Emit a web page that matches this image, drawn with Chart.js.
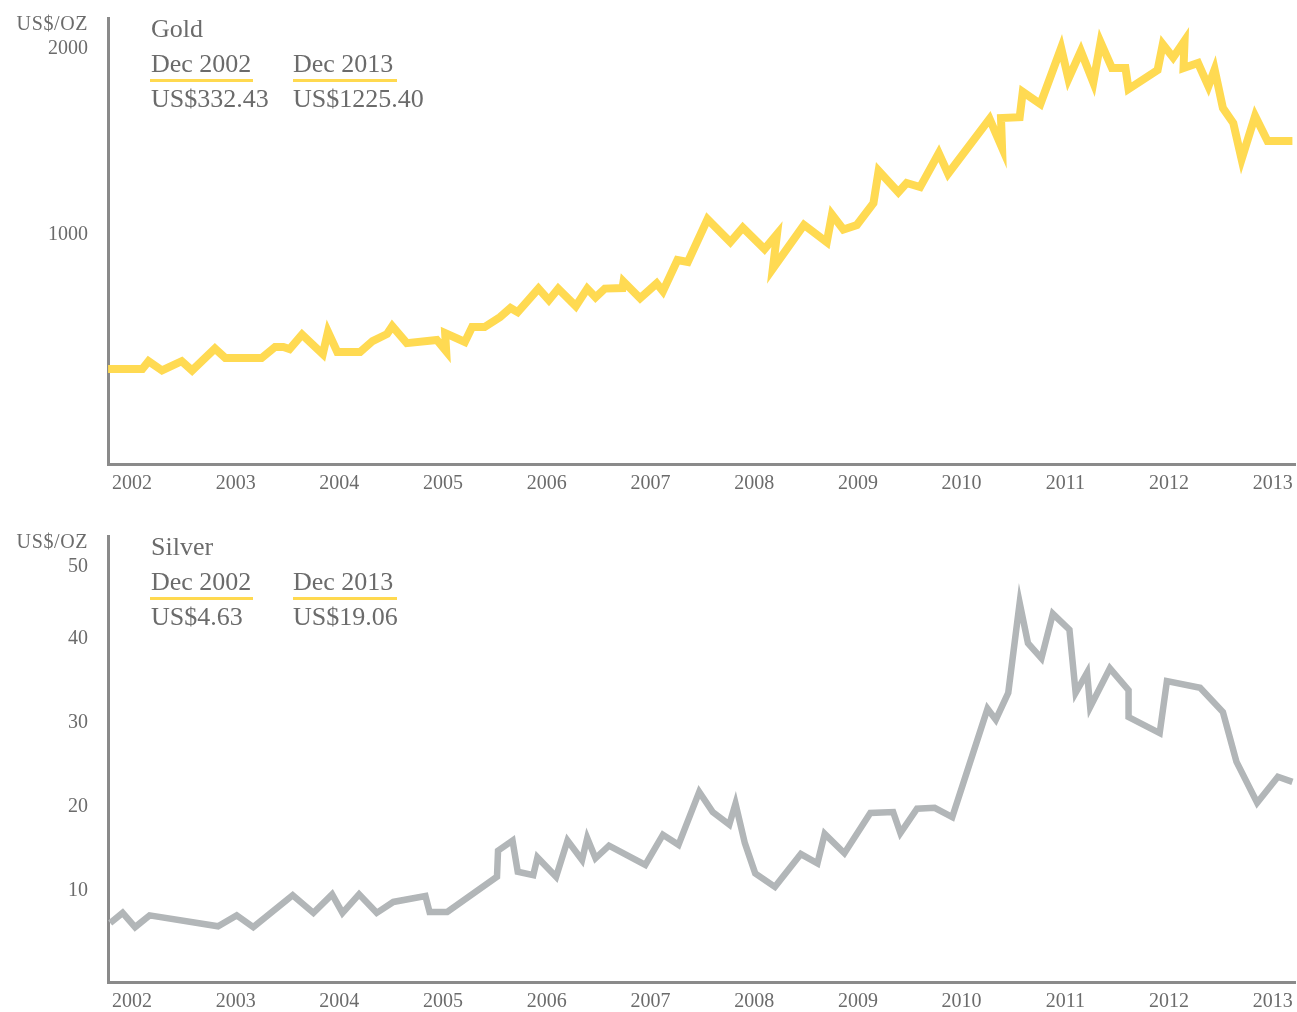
<!DOCTYPE html>
<html>
<head>
<meta charset="utf-8">
<title>Gold / Silver</title>
<script src="https://cdn.jsdelivr.net/npm/chart.js@4.4.1/dist/chart.umd.min.js"></script>
<style>
    body {
        margin: 0;
        width: 1297px;
        height: 1012px;
        overflow: hidden;
        position: relative;
        background: #ffffff;
        font-family: "Liberation Serif", "DejaVu Serif", serif;
        color: #6b6b6b;
    }
    .panel {
        position: absolute;
        left: 0;
        width: 1297px;
        height: 500px;
    }
    .panel canvas {
        position: absolute;
        left: 0;
        top: 0;
    }
    .unit {
        position: absolute;
        left: 0;
        width: 88px;
        top: 13px;
        text-align: right;
        font-size: 20px;
        line-height: 20px;
        letter-spacing: 0.6px;
    }
    .note {
        position: absolute;
        font-size: 26px;
        line-height: 26px;
        white-space: nowrap;
    }
    .rule {
        position: absolute;
        top: 79px;
        height: 3px;
        background: #ffd94f;
    }
</style>
</head>
<body>

<div class="panel" id="goldPanel" style="top:0">
    <canvas id="goldChart" width="1297" height="500"></canvas>
    <div class="unit">US$/OZ</div>
    <div class="note" style="left:151px; top:16px">Gold</div>
    <div class="note" style="left:151px; top:51px">Dec 2002</div>
    <div class="note" style="left:293px; top:51px">Dec 2013</div>
    <div class="rule" style="left:150px; width:103px"></div>
    <div class="rule" style="left:293px; width:104px"></div>
    <div class="note" style="left:151px; top:86px">US$332.43</div>
    <div class="note" style="left:293px; top:86px">US$1225.40</div>
</div>

<div class="panel" id="silverPanel" style="top:518px">
    <canvas id="silverChart" width="1297" height="500"></canvas>
    <div class="unit">US$/OZ</div>
    <div class="note" style="left:151px; top:16px">Silver</div>
    <div class="note" style="left:151px; top:51px">Dec 2002</div>
    <div class="note" style="left:293px; top:51px">Dec 2013</div>
    <div class="rule" style="left:150px; width:103px"></div>
    <div class="rule" style="left:293px; width:104px"></div>
    <div class="note" style="left:151px; top:86px">US$4.63</div>
    <div class="note" style="left:293px; top:86px">US$19.06</div>
</div>

<script>
// 年份刻度
const yearTicks = [2002, 2003, 2004, 2005, 2006, 2007, 2008, 2009, 2010, 2011, 2012, 2013];

// 黄金价格 (US$/oz)
const goldDates = [
    2001.77, 2002.10, 2002.16, 2002.29, 2002.48, 2002.58, 2002.80, 2002.90, 2003.25, 2003.38,
    2003.46, 2003.52, 2003.64, 2003.84, 2003.89, 2003.98, 2004.20, 2004.32, 2004.46, 2004.51,
    2004.65, 2004.94, 2005.03, 2005.02, 2005.21, 2005.28, 2005.40, 2005.55, 2005.65, 2005.72,
    2005.92, 2006.02, 2006.11, 2006.28, 2006.39, 2006.47, 2006.56, 2006.73, 2006.74, 2006.90,
    2007.06, 2007.12, 2007.26, 2007.36, 2007.55, 2007.77, 2007.89, 2008.10, 2008.22, 2008.18,
    2008.48, 2008.70, 2008.75, 2008.86, 2008.99, 2009.15, 2009.20, 2009.39, 2009.47, 2009.60,
    2009.78, 2009.87, 2010.27, 2010.39, 2010.38, 2010.56, 2010.59, 2010.76, 2010.96, 2011.03,
    2011.15, 2011.27, 2011.34, 2011.45, 2011.58, 2011.61, 2011.89, 2011.94, 2012.04, 2012.15,
    2012.14, 2012.28, 2012.38, 2012.44, 2012.52, 2012.62, 2012.70, 2012.83, 2012.95, 2013.19
];
const goldPrices = [
    280, 280, 322, 272, 322, 272, 390, 339, 339, 398,
    398, 387, 465, 360, 480, 371, 371, 430, 468, 510,
    419, 436, 375, 473, 425, 505, 505, 559, 608, 585,
    712, 650, 712, 618, 712, 665, 712, 715, 750, 660,
    740, 698, 866, 855, 1085, 962, 1040, 925, 1005, 820,
    1055, 962, 1110, 1030, 1054, 1172, 1345, 1230, 1280, 1258,
    1440, 1330, 1625, 1470, 1629, 1634, 1770, 1705, 2006, 1840,
    1989, 1820, 2037, 1898, 1898, 1785, 1887, 2026, 1955, 2045,
    1898, 1925, 1800, 1890, 1683, 1602, 1408, 1640, 1505, 1505
];
const goldTicks = [1000, 2000];

// 白银价格 (US$/oz)
const silverDates = [
    2001.79, 2001.91, 2002.03, 2002.17, 2002.83, 2003.01, 2003.17, 2003.55, 2003.75, 2003.93,
    2004.03, 2004.19, 2004.36, 2004.52, 2004.83, 2004.87, 2005.04, 2005.52, 2005.53, 2005.67,
    2005.72, 2005.87, 2005.91, 2006.09, 2006.20, 2006.34, 2006.39, 2006.47, 2006.60, 2006.95,
    2007.12, 2007.27, 2007.47, 2007.60, 2007.76, 2007.82, 2007.91, 2008.01, 2008.20, 2008.45,
    2008.61, 2008.68, 2008.87, 2009.12, 2009.34, 2009.41, 2009.57, 2009.74, 2009.91, 2010.25,
    2010.33, 2010.45, 2010.56, 2010.64, 2010.77, 2010.88, 2011.04, 2011.10, 2011.21, 2011.24,
    2011.43, 2011.61, 2011.61, 2011.91, 2011.98, 2012.30, 2012.52, 2012.65, 2012.85, 2013.05,
    2013.19
];
const silverPrices = [
    6.2, 7.4, 5.7, 7.1, 5.8, 7.1, 5.7, 9.5, 7.4, 9.6,
    7.4, 9.6, 7.4, 8.7, 9.4, 7.5, 7.5, 11.7, 14.8, 16.0,
    12.3, 11.9, 14.0, 11.7, 16.0, 13.7, 16.3, 13.9, 15.4, 13.1,
    16.7, 15.5, 21.8, 19.4, 17.9, 20.4, 15.7, 12.1, 10.5, 14.4,
    13.3, 16.8, 14.5, 19.3, 19.4, 16.9, 19.8, 19.9, 18.8, 31.7,
    30.4, 33.6, 44.3, 39.5, 37.7, 43.0, 41.1, 33.6, 36.0, 31.9,
    36.5, 33.9, 30.7, 28.8, 35.0, 34.2, 31.3, 25.4, 20.5, 23.6,
    23.0
];
const silverTicks = [10, 20, 30, 40, 50];

const TEXT_COLOR = '#6b6b6b';
const AXIS_COLOR = '#8a8a8a';
const FONT = { family: '"Liberation Serif", "DejaVu Serif", serif', size: 20 };

// 去掉刻度标签带来的额外内边距，让绘图区位置固定
function noScalePadding(scale) {
    scale.paddingTop = 0;
    scale.paddingBottom = 0;
    scale.paddingLeft = 0;
    scale.paddingRight = 0;
}

// 创建一个价格折线图
function makePriceChart(canvasId, dates, prices, ticks, yMin, yMax, color, lineWidth, yLabel) {
    const ctx = document.getElementById(canvasId).getContext('2d');
    return new Chart(ctx, {
        type: 'line',
        data: {
            datasets: [{
                data: dates.map((d, i) => ({ x: d, y: prices[i] })),
                borderColor: color,
                borderWidth: lineWidth,
                borderJoinStyle: 'miter',
                pointRadius: 0,
                tension: 0,
                fill: false
            }]
        },
        options: {
            responsive: false,
            animation: false,
            layout: { padding: { top: 18, right: 2, left: 0, bottom: 0 } },
            plugins: {
                legend: { display: false },
                tooltip: { enabled: false }
            },
            scales: {
                x: {
                    type: 'linear',
                    min: 2001.769,
                    max: 2013.215,
                    afterBuildTicks: scale => {
                        scale.ticks = yearTicks.map(v => ({ value: v }));
                    },
                    afterFit: scale => {
                        scale.height = 36;
                        noScalePadding(scale);
                    },
                    grid: { display: false, drawTicks: false },
                    border: { display: true, color: AXIS_COLOR, width: 3 },
                    ticks: {
                        color: TEXT_COLOR,
                        font: FONT,
                        padding: 8,
                        maxRotation: 0,
                        autoSkip: false,
                        callback: v => String(v)
                    }
                },
                y: {
                    min: yMin,
                    max: yMax,
                    afterBuildTicks: scale => {
                        scale.ticks = ticks.map(v => ({ value: v }));
                    },
                    afterFit: scale => {
                        scale.width = 108;
                        noScalePadding(scale);
                    },
                    grid: { display: false, drawTicks: false },
                    border: { display: true, color: AXIS_COLOR, width: 3 },
                    ticks: {
                        color: TEXT_COLOR,
                        font: FONT,
                        padding: 20,
                        autoSkip: false,
                        callback: yLabel || (v => String(v))
                    }
                }
            }
        }
    });
}

makePriceChart('goldChart', goldDates, goldPrices, goldTicks, -231, 2167, '#ffda52', 8);
// 原图中最上面的 "50" 标签略向下错开，避开单位文字
makePriceChart('silverChart', silverDates, silverPrices, silverTicks, -0.83, 52.26, '#b2b6b8', 6.5,
    v => (v === 50 ? ['', '50'] : String(v)));
</script>
</body>
</html>
